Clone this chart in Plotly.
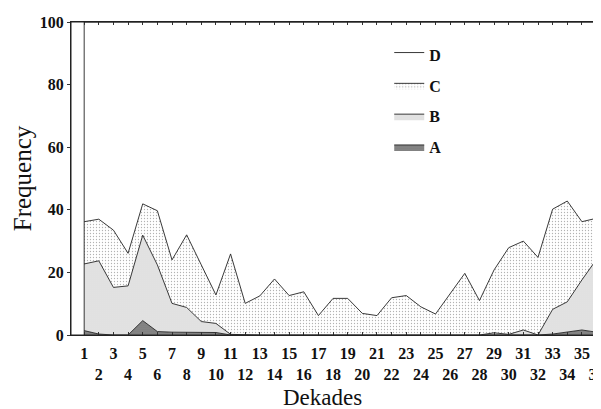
import plotly.graph_objects as go

dekades = list(range(1, 37))
A = [1.4, 0.3, 0, 0, 4.6, 1.1, 0.9, 0.9, 0.9, 0.8, 0, 0, 0, 0, 0, 0, 0, 0,
     0, 0, 0, 0, 0, 0, 0, 0, 0, 0, 0, 0, 0, 0, 0.3, 1.0, 1.6, 0.9]
B = [21.3, 23.4, 15.2, 15.7, 27.3, 21.3, 9.2, 7.9, 3.4, 2.9, 0.2, 0, 0, 0, 0, 0, 0, 0,
     0, 0, 0, 0, 0, 0, 0, 0, 0, 0, 0.7, 0.2, 1.6, 0, 7.9, 9.6, 16.0, 23.3]
C = [13.5, 13.3, 18.3, 10.4, 10.0, 17.3, 13.9, 23.2, 18.1, 9.1, 25.7, 10.1, 12.5, 17.9,
     12.6, 13.8, 6.2, 11.7, 11.7, 6.9, 6.2, 11.9, 12.6, 9.0, 6.7, 13.3, 19.7, 11.0,
     20.1, 27.7, 28.4, 24.8, 32.0, 32.2, 18.6, 13.1]
D = [63.8, 63.0, 66.5, 73.9, 58.1, 60.3, 76.0, 68.0, 77.6, 87.2, 74.1, 89.9, 87.5, 82.1,
     87.4, 86.2, 93.8, 88.3, 88.3, 93.1, 93.8, 88.1, 87.4, 91.0, 93.3, 86.7, 80.3, 89.0,
     79.2, 72.1, 70.0, 75.2, 59.8, 57.2, 63.8, 62.7]
series_names = ["A", "B", "C", "D"]
y_ticks = [0, 20, 40, 60, 80, 100]

serif = "Liberation Serif, Times New Roman, serif"

styles = {
    "A": dict(fillcolor="#7a7a7a",
              fillpattern=dict(shape=".", fgcolor="#444444", bgcolor="#8a8a8a", size=2, solidity=0.3)),
    "B": dict(fillcolor="#cfcfcf",
              fillpattern=dict(shape=".", fgcolor="#555555", bgcolor="#ffffff", size=2, solidity=0.35)),
    "C": dict(fillcolor="#f0f0f0",
              fillpattern=dict(shape=".", fgcolor="#666666", bgcolor="#ffffff", size=3, solidity=0.15)),
    "D": dict(fillcolor="#ffffff"),
}
ranks = {"D": 1, "C": 2, "B": 3, "A": 4}

fig = go.Figure()
for name, vals in zip(series_names, [A, B, C, D]):
    fig.add_trace(go.Scatter(
        x=dekades, y=vals, name=name, stackgroup="one", mode="lines",
        line=dict(color="#222222", width=0.9), legendrank=ranks[name],
        legendgroup=name, **styles[name]))

# left edge outline of the stacked area at the first dekade
fig.add_trace(go.Scatter(x=[dekades[0], dekades[0]], y=[0, 100], mode="lines",
                         line=dict(color="#222222", width=0.9), showlegend=False,
                         hoverinfo="skip"))

ticktext = [(f"{d}" if d % 2 == 1 else f"<br>{d}") for d in dekades]

# the page body adds an 8px offset, so the figure is sized to fit the 601x409 window
fig.update_layout(
    width=593, height=401,
    margin=dict(l=63, r=4, t=14, b=74),
    paper_bgcolor="white", plot_bgcolor="white",
    font=dict(family=serif, color="#111111"),
    showlegend=True,
    legend=dict(x=0.605, y=0.95, xanchor="left", yanchor="top",
                traceorder="grouped", tracegroupgap=7,
                font=dict(family=serif, size=16, weight="bold"),
                bgcolor="rgba(0,0,0,0)", itemwidth=30),
    xaxis=dict(range=[0.1, 36.03], tickmode="array", tickvals=dekades, ticktext=ticktext,
               tickangle=0, automargin=False, ticklabelstandoff=4,
               ticklabeloverflow="allow",
               tickfont=dict(family=serif, size=16, weight="bold"),
               ticks="inside", ticklen=3, tickcolor="#333",
               showline=True, linecolor="#222", linewidth=1, mirror="ticks",
               showgrid=False, zeroline=False),
    yaxis=dict(range=[0, 100], tickmode="array", tickvals=y_ticks, automargin=False,
               tickfont=dict(family=serif, size=16, weight="bold"),
               ticks="outside", ticklen=3, tickcolor="#333",
               showline=True, linecolor="#222", linewidth=1, mirror=True,
               showgrid=False, zeroline=False,
               title=dict(text="Frequency", font=dict(family=serif, size=25), standoff=1)),
    shapes=[dict(type="rect", xref="paper", yref="paper", x0=0, x1=1, y0=0, y1=1,
                 line=dict(color="#222222", width=1), fillcolor="rgba(0,0,0,0)",
                 layer="above")],
    annotations=[dict(text="Dekades", xref="paper", yref="paper", x=0.479, y=-0.2,
                      xanchor="center", yanchor="middle", showarrow=False,
                      font=dict(family=serif, size=23, color="#111111"))],
)

fig.write_html("out.html")
